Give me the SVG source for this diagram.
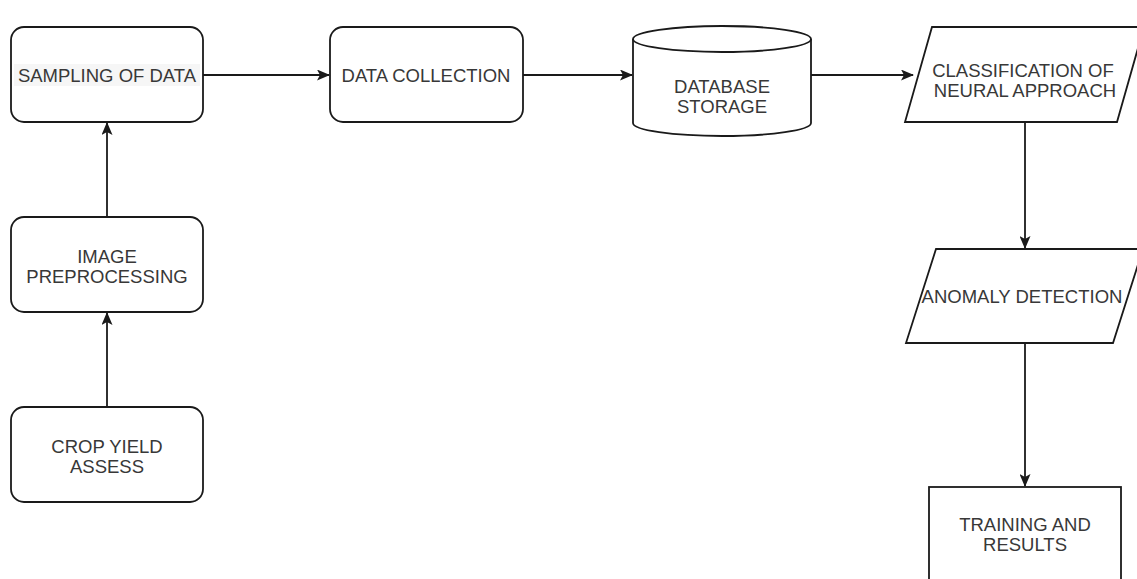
<svg xmlns="http://www.w3.org/2000/svg" width="1137" height="579" viewBox="0 0 1137 579">
<style>
.shape{fill:#ffffff;stroke:#1a1a1a;stroke-width:1.8}
.lbl{font-family:"Liberation Sans",Arial,Helvetica,sans-serif;font-size:18.5px;fill:#383838;text-anchor:middle}
.edge{fill:none;stroke:#1a1a1a;stroke-width:1.8}
</style>
<defs>
<marker id="arr" viewBox="0 0 13 11" refX="12" refY="5.5" markerWidth="13" markerHeight="11" markerUnits="userSpaceOnUse" orient="auto">
<path d="M0,0 L13,5.5 L0,11 L3,5.5 z" fill="#1a1a1a"/>
</marker>
</defs>
<rect width="1137" height="579" fill="#ffffff"/>
<g id="connectors">
<path class="edge" d="M203,75 L329,75" marker-end="url(#arr)"/>
<path class="edge" d="M523,75 L632,75" marker-end="url(#arr)"/>
<path class="edge" d="M811,75 L913,75" marker-end="url(#arr)"/>
<path class="edge" d="M1025,122 L1025,248" marker-end="url(#arr)"/>
<path class="edge" d="M1025,343 L1025,486" marker-end="url(#arr)"/>
<path class="edge" d="M107,217 L107,123" marker-end="url(#arr)"/>
<path class="edge" d="M107,407 L107,313" marker-end="url(#arr)"/>
</g>
<g id="sampling">
<rect class="shape" x="11" y="27" width="192" height="95" rx="13" ry="13"/>
<rect x="14" y="64" width="186" height="22" fill="#f6f6f6"/>
<text class="lbl" x="107" y="82">SAMPLING OF DATA</text>
</g>
<g id="collection">
<rect class="shape" x="330" y="27" width="193" height="95" rx="13" ry="13"/>
<text class="lbl" x="426" y="82">DATA COLLECTION</text>
</g>
<g id="database">
<path class="shape" d="M633,39 A89,13 0 0 1 811,39 L811,123 A89,13 0 0 1 633,123 Z"/>
<path class="edge" d="M633,39 A89,13 0 0 0 811,39"/>
<text class="lbl" x="722" y="93">DATABASE</text>
<text class="lbl" x="722" y="113">STORAGE</text>
</g>
<g id="classification">
<path class="shape" d="M932,27 L1144,27 L1117,122 L905,122 Z"/>
<text class="lbl" x="1023" y="77">CLASSIFICATION OF</text>
<text class="lbl" x="1025" y="97">NEURAL APPROACH</text>
</g>
<g id="anomaly">
<path class="shape" d="M936,249 L1143,249 L1113,343 L906,343 Z"/>
<text class="lbl" x="1022" y="303">ANOMALY DETECTION</text>
</g>
<g id="training">
<rect class="shape" x="929" y="487" width="192" height="110"/>
<text class="lbl" x="1025" y="531">TRAINING AND</text>
<text class="lbl" x="1025" y="551">RESULTS</text>
</g>
<g id="preprocessing">
<rect class="shape" x="11" y="217" width="192" height="95" rx="13" ry="13"/>
<text class="lbl" x="107" y="263">IMAGE</text>
<text class="lbl" x="107" y="283">PREPROCESSING</text>
</g>
<g id="crop">
<rect class="shape" x="11" y="407" width="192" height="95" rx="13" ry="13"/>
<text class="lbl" x="107" y="453">CROP YIELD</text>
<text class="lbl" x="107" y="473">ASSESS</text>
</g>
</svg>
